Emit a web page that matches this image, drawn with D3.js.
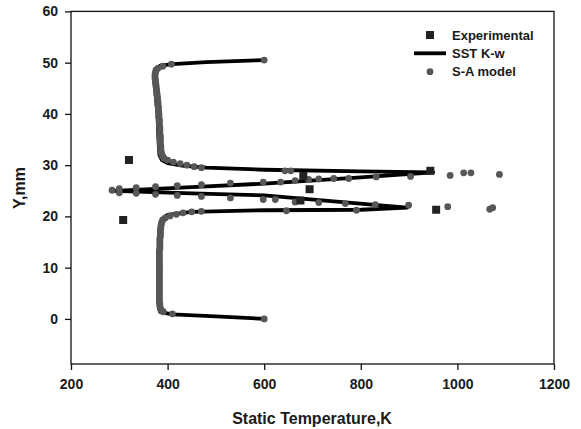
<!DOCTYPE html>
<html>
<head>
<meta charset="utf-8">
<script src="https://cdn.jsdelivr.net/npm/d3@7"></script>
<style>
  body { margin: 0; background: #fff; }
  text { font-family: "Liberation Sans", Arial, sans-serif; font-weight: bold; fill: #1a1a1a; }
</style>
</head>
<body>
<script>
// chart size
var w = 581, h = 429;

// tick labels
var xTicks = [200, 400, 600, 800, 1000, 1200];
var yTicks = [0, 10, 20, 30, 40, 50, 60];

// Experimental points [T (K), Y (mm)]
var experimental = [
  [320, 31.0], [308, 19.3], [681, 27.9], [694, 25.3], [675, 23.1], [944, 28.9], [956, 21.3]
];

// SST K-w line, ordered along the curve [T, Y]
var sstKw = [
  [600, 50.5], [480, 50.1], [410, 49.7], [385, 49.4], [374, 48.8], [372, 47.0], [375, 44.0],
  [379, 40.0], [381, 35.0], [383, 32.0], [388, 31.0], [400, 30.4], [430, 29.9], [480, 29.5],
  [600, 29.1], [800, 28.8], [950, 28.6], [800, 27.6], [600, 26.4], [450, 25.7], [290, 25.0],
  [450, 24.5], [600, 24.1], [750, 22.9], [896, 21.7], [800, 21.3], [600, 21.2], [450, 20.9],
  [400, 20.3], [388, 19.5], [384, 18.0], [383, 15.0], [382, 10.0], [381, 5.0], [382, 2.0],
  [385, 1.3], [410, 0.9], [500, 0.5], [600, 0.0]
];

// S-A model points [T, Y]
var saUpper = [
  [600, 50.5], [408, 49.7], [390, 49.3], [380, 48.9], [376, 48.5], [375, 48.1], [374, 47.7],
  [374, 47.3], [374, 46.9], [375, 46.5], [375, 46.1], [376, 45.7], [376, 45.3], [377, 44.9],
  [377, 44.5], [378, 44.1], [378, 43.7], [379, 43.3], [379, 42.9], [380, 42.5], [380, 42.1],
  [380, 41.7], [381, 41.3], [381, 40.9], [381, 40.5], [382, 40.1], [382, 39.7], [382, 39.3],
  [383, 38.9], [383, 38.5], [383, 38.1], [383, 37.7], [384, 37.3], [384, 36.9], [384, 36.5],
  [384, 36.1], [385, 35.7], [385, 35.3], [385, 34.9], [385, 34.5], [385, 34.1], [386, 33.7],
  [386, 33.3], [386, 32.9], [387, 32.5], [388, 32.1], [390, 31.7], [393, 31.3], [400, 31.0]
];
var saSpike = [
  [412, 30.6], [426, 30.3], [440, 30.0], [455, 29.7], [470, 29.5], [643, 28.9], [655, 28.9],
  [985, 28.0], [1013, 28.5], [1028, 28.5], [1087, 28.2],
  [285, 25.1], [300, 25.4], [335, 25.6], [375, 25.8], [420, 26.0], [470, 26.2], [530, 26.5],
  [598, 26.7], [634, 26.7], [664, 27.0], [692, 27.2], [713, 27.3],
  [744, 27.4], [775, 27.4], [832, 27.7], [903, 27.8],
  [300, 24.6], [335, 24.5], [375, 24.3], [420, 24.1], [470, 23.9], [530, 23.6],
  [598, 23.3], [623, 23.3], [664, 22.8], [713, 22.7], [768, 22.5], [830, 22.3],
  [899, 22.2], [980, 21.9], [1067, 21.4], [1073, 21.7],
  [646, 21.1], [791, 21.2], [470, 21.0], [450, 20.9], [432, 20.7], [418, 20.4], [405, 20.1]
];
var saLower = [
  [395, 19.7], [390, 19.3], [388, 18.9], [387, 18.5], [386, 18.1], [386, 17.7], [385, 17.3],
  [385, 16.9], [385, 16.5], [385, 16.1], [384, 15.7], [384, 15.3], [384, 14.9], [384, 14.5],
  [384, 14.1], [384, 13.7], [383, 13.3], [383, 12.9], [383, 12.5], [383, 12.1], [383, 11.7],
  [383, 11.3], [383, 10.9], [383, 10.5], [383, 10.1], [383, 9.7], [383, 9.3], [383, 8.9],
  [383, 8.5], [383, 8.1], [383, 7.7], [383, 7.3], [383, 6.9], [383, 6.5], [383, 6.1],
  [383, 5.7], [383, 5.3], [383, 4.9], [383, 4.5], [383, 4.1], [383, 3.7], [383, 3.3],
  [384, 2.9], [384, 2.5], [385, 2.1], [387, 1.7], [391, 1.4], [410, 1.0], [600, 0.0]
];

window.onload = function () {
  var svg = d3.select("body").append("svg")
    .attr("width", w)
    .attr("height", h);

  var x = d3.scaleLinear().domain([200, 1200]).range([71, 554]);
  var y = d3.scaleLinear().domain([-8.8, 60]).range([364, 11.4]);

  // frame
  svg.append("rect")
    .attr("x", x(200)).attr("y", y(60))
    .attr("width", x(1200) - x(200)).attr("height", y(-8.8) - y(60))
    .attr("fill", "none").attr("stroke", "#111").attr("stroke-width", 1.3);

  // axes
  var xAxis = svg.append("g")
    .attr("transform", "translate(0," + y(-8.8) + ")")
    .call(d3.axisBottom(x).tickValues(xTicks).tickFormat(d3.format("d")).tickSize(6).tickPadding(9));
  var yAxis = svg.append("g")
    .attr("transform", "translate(" + x(200) + ",0)")
    .call(d3.axisLeft(y).tickValues(yTicks).tickFormat(d3.format("d")).tickSize(6).tickPadding(7));
  [xAxis, yAxis].forEach(function (g) {
    g.select(".domain").remove();
    g.selectAll("line").attr("stroke", "#111").attr("stroke-width", 1.3);
    g.selectAll("text").style("font-size", "14px").attr("fill", "#1a1a1a");
  });

  // axis titles
  svg.append("text")
    .attr("x", 312).attr("y", 424)
    .attr("text-anchor", "middle")
    .style("font-size", "16px")
    .text("Static Temperature,K");
  svg.append("text")
    .attr("transform", "translate(25,188) rotate(-90)")
    .attr("text-anchor", "middle")
    .style("font-size", "16px")
    .text("Y,mm");

  // SST K-w line
  var line = d3.line()
    .x(function (d) { return x(d[0]); })
    .y(function (d) { return y(d[1]); });
  svg.append("path")
    .datum(sstKw)
    .attr("d", line)
    .attr("fill", "none")
    .attr("stroke", "#000")
    .attr("stroke-width", 3.8)
    .attr("stroke-linejoin", "round");

  // S-A model dots
  var saAll = saUpper.concat(saSpike, saLower);
  svg.append("g").selectAll("circle")
    .data(saAll)
    .join("circle")
    .attr("cx", function (d) { return x(d[0]); })
    .attr("cy", function (d) { return y(d[1]); })
    .attr("r", 3.4)
    .attr("fill", "#575757");

  // experimental squares
  svg.append("g").selectAll("rect")
    .data(experimental)
    .join("rect")
    .attr("x", function (d) { return x(d[0]) - 4; })
    .attr("y", function (d) { return y(d[1]) - 4; })
    .attr("width", 8).attr("height", 8)
    .attr("fill", "#222");

  // legend
  var lg = svg.append("g").attr("class", "legend");
  lg.append("rect").attr("x", 426).attr("y", 31).attr("width", 8).attr("height", 8).attr("fill", "#222");
  lg.append("line").attr("x1", 414).attr("x2", 446).attr("y1", 53.3).attr("y2", 53.3)
    .attr("stroke", "#000").attr("stroke-width", 3.8);
  lg.append("circle").attr("cx", 430).attr("cy", 71.7).attr("r", 3.4).attr("fill", "#575757");
  var labels = ["Experimental", "SST K-w", "S-A model"];
  lg.selectAll("text.lab").data(labels).join("text")
    .attr("class", "lab")
    .attr("x", 452)
    .attr("y", function (d, i) { return 35 + i * 18.3; })
    .attr("dy", "0.35em")
    .style("font-size", "13px")
    .text(function (d) { return d; });
};
</script>
</body>
</html>
